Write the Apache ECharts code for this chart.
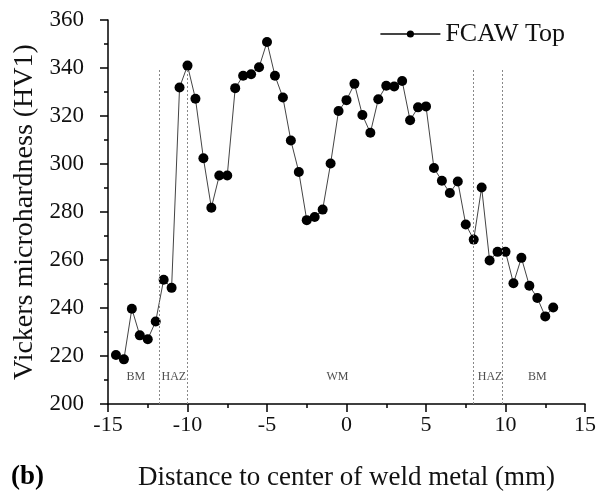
<!DOCTYPE html>
<html>
<head>
<meta charset="utf-8">
<script src="https://cdn.jsdelivr.net/npm/echarts@6/dist/echarts.min.js"></script>
<style>
	html, body { margin: 0; padding: 0; background: #fff; }
	#chart { width: 610px; height: 496px; }
</style>
</head>
<body>
<div id="chart"></div>
<script>
// positions along the weld (mm) and hardness readings
var distance = [-14.5, -14, -13.5, -13, -12.5, -12, -11.5, -11, -10.5, -10,
	-9.5, -9, -8.5, -8, -7.5, -7, -6.5, -6, -5.5, -5,
	-4.5, -4, -3.5, -3, -2.5, -2, -1.5, -1, -0.5, 0,
	0.5, 1, 1.5, 2, 2.5, 3, 3.5, 4, 4.5, 5,
	5.5, 6, 6.5, 7, 7.5, 8, 8.5, 9, 9.5, 10,
	10.5, 11, 11.5, 12, 12.5, 13];
var hardness = [220.4, 218.6, 239.7, 228.6, 227, 234.4, 251.8, 248.4, 331.9, 341,
	327.2, 302.4, 281.8, 295.2, 295.2, 331.6, 336.8, 337.4, 340.3, 350.8,
	336.8, 327.7, 309.8, 296.7, 276.6, 277.9, 281, 300.2, 322.1, 326.6,
	333.4, 320.4, 313, 327, 332.6, 332.3, 334.6, 318.2, 323.6, 324,
	298.3, 293, 287.9, 292.7, 274.8, 268.5, 290.2, 259.8, 263.4, 263.4,
	250.3, 260.9, 249.3, 244.2, 236.5, 240.2];
// zone boundaries and zone names
var zoneBounds = [-11.8, -10, 8, 9.8];
var zoneTop = 340;
var zoneNames = ['BM', 'HAZ', 'WM', 'HAZ', 'BM'];
var zoneLabelX = [-13.25, -10.86, -0.57, 9.03, 12.0];
var zoneLabelY = 211.5;

var serif = '"Liberation Serif", "Times New Roman", serif';

var chart = echarts.init(document.getElementById('chart'));

var points = [];
for (var i = 0; i < distance.length; i++) {
	points.push([distance[i], hardness[i]]);
}
var bounds = [];
for (var j = 0; j < zoneBounds.length; j++) {
	bounds.push([{ coord: [zoneBounds[j], 200] }, { coord: [zoneBounds[j], zoneTop] }]);
}
var labels = [];
for (var k = 0; k < zoneNames.length; k++) {
	labels.push({ value: [zoneLabelX[k], zoneLabelY], name: zoneNames[k] });
}

var option = {
	animation: false,
	backgroundColor: '#fff',
	title: {
		text: '(b)',
		left: 11,
		top: 464,
		padding: 0,
		textStyle: { fontFamily: serif, fontWeight: 'bold', fontSize: 27, color: '#000' }
	},
	legend: {
		data: ['FCAW Top'],
		right: 45,
		top: 21,
		itemWidth: 60,
		itemHeight: 9,
		padding: 0,
		textStyle: { fontFamily: serif, fontSize: 26, color: '#111' }
	},
	grid: { left: 108, right: 25, top: 20, bottom: 90 },
	xAxis: {
		type: 'value',
		min: -15,
		max: 15,
		interval: 5,
		name: 'Distance to center of weld metal (mm)',
		nameLocation: 'middle',
		nameGap: 60,
		nameTextStyle: { fontFamily: serif, fontSize: 27, color: '#111' },
		axisLine: { onZero: false, lineStyle: { color: '#000', width: 1.5 } },
		axisTick: { inside: false, length: 8, lineStyle: { color: '#000', width: 1.5 } },
		minorTick: { show: true, splitNumber: 2, length: 4, lineStyle: { color: '#000', width: 1.5 } },
		axisLabel: { fontFamily: serif, fontSize: 22, color: '#111', margin: 10 },
		splitLine: { show: false }
	},
	yAxis: {
		type: 'value',
		min: 200,
		max: 360,
		interval: 20,
		name: 'Vickers microhardness (HV1)',
		nameLocation: 'middle',
		nameGap: 67,
		nameRotate: 90,
		nameTextStyle: { fontFamily: serif, fontSize: 28, color: '#111' },
		axisLine: { show: true, onZero: false, lineStyle: { color: '#000', width: 1.5 } },
		axisTick: { show: true, inside: false, length: 8, lineStyle: { color: '#000', width: 1.5 } },
		minorTick: { show: true, splitNumber: 2, length: 4, lineStyle: { color: '#000', width: 1.5 } },
		axisLabel: { fontFamily: serif, fontSize: 23, color: '#111', margin: 24 },
		splitLine: { show: false }
	},
	series: [{
		name: 'FCAW Top',
		type: 'line',
		data: points,
		symbol: 'circle',
		symbolSize: 10,
		itemStyle: { color: '#000' },
		lineStyle: { color: '#444', width: 1 },
		markLine: {
			silent: true,
			symbol: 'none',
			label: { show: false },
			lineStyle: { color: '#888', type: [2, 2], width: 1 },
			data: bounds
		}
	}, {
		name: 'zones',
		type: 'scatter',
		data: labels,
		symbolSize: 0,
		silent: true,
		label: {
			show: true,
			position: 'inside',
			formatter: '{b}',
			fontFamily: serif,
			fontSize: 12,
			color: '#222'
		}
	}]
};
chart.setOption(option);
</script>
</body>
</html>
